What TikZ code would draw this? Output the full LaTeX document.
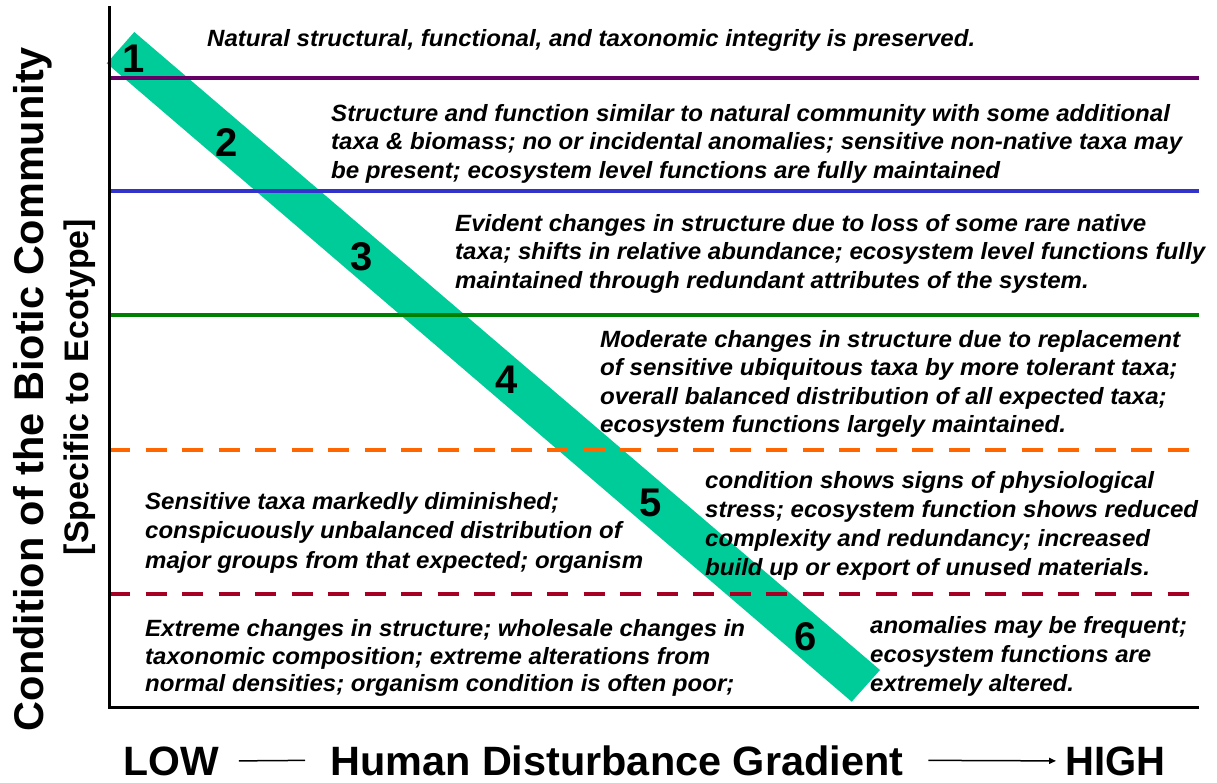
\documentclass[tikz,border=0pt]{standalone}
\usepackage{fontspec}
\setmainfont{Liberation Sans}
\usepackage{graphicx}
\usetikzlibrary{arrows.meta}
\definecolor{bandc}{RGB}{0,204,153}
\definecolor{lpurple}{RGB}{102,0,102}
\definecolor{lblue}{RGB}{51,51,204}
\definecolor{lgreen}{RGB}{0,128,0}
\definecolor{lorange}{RGB}{255,102,0}
\definecolor{lred}{RGB}{165,0,36}
\newsavebox\fitbox
\newcommand\fitblk[3]{%
  \sbox\fitbox{\fontsize{23.5}{#2}\selectfont\bfseries\itshape\begin{tabular}[t]{@{}l@{}}#3\end{tabular}}%
  \pgfmathsetmacro\fitsc{#1/\the\wd\fitbox}%
  \scalebox{\fitsc}[1]{\usebox\fitbox}}
\newcommand\fitone[3]{%
  \sbox\fitbox{\fontsize{#2}{#2}\selectfont\bfseries #3}%
  \pgfmathsetmacro\fitsc{#1/\the\wd\fitbox}%
  \scalebox{\fitsc}[1]{\usebox\fitbox}}
\tikzset{
  blk/.style={anchor=base west, inner sep=0pt},
  num/.style={font=\fontsize{40}{40}\selectfont\bfseries, inner sep=0pt},
  axl/.style={inner sep=0pt, anchor=base west},
  ytl/.style={inner sep=0pt, anchor=base, rotate=90},
  lvl/.style={line width=3.3pt},
  lvld/.style={line width=4.5pt, dash pattern=on 21pt off 15.5pt},
  axisline/.style={line width=3pt, black, line join=miter},
  conn/.style={line width=1.5pt, black},
}
\begin{document}
\begin{tikzpicture}[x=1pt,y=-1pt]
\useasboundingbox (0,0) rectangle (1217,782);
% coordinates
\coordinate (ytop) at (109,6);
\coordinate (o) at (109,707);
\coordinate (xend) at (1199,707);
\coordinate (pl) at (109,78);  \coordinate (pr) at (1199,78);
\coordinate (bl) at (109,191); \coordinate (br) at (1199,191);
\coordinate (gl) at (109,315); \coordinate (gr) at (1199,315);
\coordinate (ol) at (109,450); \coordinate (or) at (1199,450);
\coordinate (rl) at (109,594); \coordinate (rr) at (1199,594);
% band
\fill[bandc] (106.7,63.3) -- (134.3,32) -- (880,670) -- (851.7,701.7) -- cycle;
% level lines
\draw[lvl, lpurple] (pl) -- (pr);
\draw[lvl, lblue] (bl) -- (br);
\draw[lvl, lgreen] (gl) -- (gr);
\draw[lvld, lorange] (ol) -- (or);
\draw[lvld, lred] (rl) -- (rr);
% axes
\draw[axisline] (ytop) -- (o) -- (xend);
% texts
\node[blk] (t1) at (207,46.5) {\fitblk{768}{28.5}{Natural structural, functional, and taxonomic integrity is preserved.}};
\node[blk] (t2) at (331,121.5) {\fitblk{851}{28.3}{Structure and function similar to natural community with some additional\\
taxa \& biomass; no or incidental anomalies; sensitive non-native taxa may\\
be present; ecosystem level functions are fully maintained}};
\node[blk] (t3) at (455,231.5) {\fitblk{750}{28.3}{Evident changes in structure due to loss of some rare native\\
taxa; shifts in relative abundance; ecosystem level functions fully\\
maintained through redundant attributes of the system.}};
\node[blk] (t4) at (600,347) {\fitblk{580}{28.5}{Moderate changes in structure due to replacement\\
of sensitive ubiquitous taxa by more tolerant taxa;\\
overall balanced distribution of all expected taxa;\\
ecosystem functions largely maintained.}};
\node[blk] (t5a) at (145,509) {\fitblk{498}{29.5}{Sensitive taxa markedly diminished;\\
conspicuously unbalanced distribution of\\
major groups from that expected; organism}};
\node[blk] (t5b) at (705,488) {\fitblk{493}{29}{condition shows signs of physiological\\
stress; ecosystem function shows reduced\\
complexity and redundancy; increased\\
build up or export of unused materials.}};
\node[blk] (t6a) at (145,636.5) {\fitblk{600}{27.5}{Extreme changes in structure; wholesale changes in\\
taxonomic composition; extreme alterations from\\
normal densities; organism condition is often poor;}};
\node[blk] (t6b) at (870,633) {\fitblk{317}{29}{anomalies may be frequent;\\
ecosystem functions are\\
extremely altered.}};
% numbers
\node[num] (n1) at (134,59) {1};
\node[num] (n2) at (227,143) {2};
\node[num] (n3) at (362,257) {3};
\node[num] (n4) at (507,380) {4};
\node[num] (n5) at (651,503) {5};
\node[num] (n6) at (806,637) {6};
% axis titles
\node[axl] (low) at (123,775) {\fitone{95.5}{41}{LOW}};
\node[axl] (hum) at (330,775) {\fitone{573}{41}{Human Disturbance Gradient}};
\node[axl] (high) at (1065,775) {\fitone{100}{41}{HIGH}};
\draw[conn] ([xshift=20pt]low.east) -- ([xshift=-25pt]hum.west);
\draw[conn, -{Triangle[length=7pt,width=6pt]}] ([xshift=25pt]hum.east) -- ([xshift=-9pt]high.west);
\node[ytl] (ytitle) at (43.5,389) {\fitone{684}{41.5}{Condition of the Biotic Community}};
\node[ytl] (ysub) at (88,387) {\fitone{336}{34}{[Specific to Ecotype]}};
\end{tikzpicture}
\end{document}
